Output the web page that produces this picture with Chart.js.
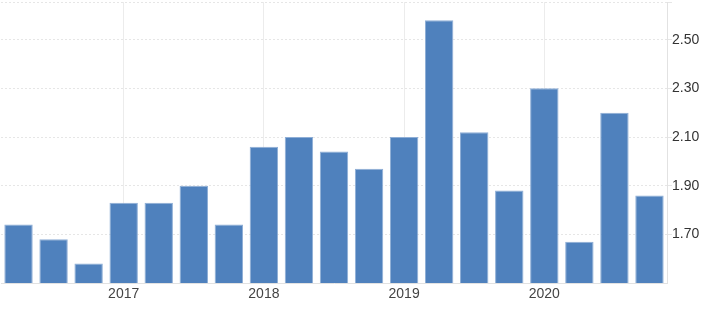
<!DOCTYPE html>
<html>
<head>
<meta charset="utf-8">
<script src="https://cdn.jsdelivr.net/npm/chart.js@4/dist/chart.umd.min.js"></script>
<style>
  html,body{margin:0;padding:0;background:#fff;}
  #wrap{width:728px;height:316px;}
</style>
</head>
<body>
<div id="wrap"><canvas id="c" width="728" height="316"></canvas></div>
<script>
// quarters 2016 Q2 .. 2020 Q4
const quarters = ["2016 Q2","2016 Q3","2016 Q4",
  "2017 Q1","2017 Q2","2017 Q3","2017 Q4",
  "2018 Q1","2018 Q2","2018 Q3","2018 Q4",
  "2019 Q1","2019 Q2","2019 Q3","2019 Q4",
  "2020 Q1","2020 Q2","2020 Q3","2020 Q4"];
const values = [1.74,1.68,1.58,1.83,1.83,1.90,1.74,2.06,2.10,2.04,1.97,2.10,2.58,2.12,1.88,2.30,1.67,2.20,1.86];
const yTicks = [1.70,1.90,2.10,2.30,2.50];
const yMin = 1.5, yMax = 2.655;

const isYear = i => /Q1$/.test(quarters[i]);

new Chart(document.getElementById("c"), {
  type: "bar",
  data: {
    labels: quarters,
    datasets: [{
      data: values,
      backgroundColor: "#4f81bd",
      borderColor: "#8eaed6",
      borderWidth: 1,
      categoryPercentage: 1,
      barPercentage: 0.81
    }]
  },
  options: {
    responsive: false,
    animation: false,
    layout: { padding: { left: 1, top: 2, right: 0, bottom: 0 } },
    plugins: { legend: { display: false }, tooltip: { enabled: false } },
    scales: {
      x: {
        offset: true,
        grid: {
          offset: false,
          drawTicks: false,
          color: ctx => (ctx.index != null && isYear(ctx.index)) ? "#ececec" : "rgba(0,0,0,0)"
        },
        border: { display: true, color: "#e2e2e2" },
        ticks: {
          autoSkip: false,
          maxRotation: 0,
          padding: 3,
          color: "#444",
          font: { family: "'Liberation Sans', Arial, sans-serif", size: 14 },
          callback: (v, i) => isYear(i) ? quarters[i].slice(0,4) : ""
        },
        afterFit: s => { s.height = 33; }
      },
      y: {
        position: "right",
        min: yMin,
        max: yMax,
        afterBuildTicks: s => { s.ticks = yTicks.concat([yMax]).map(v => ({ value: v })); },
        grid: { color: "#e6e6e6", tickLength: 5 },
        border: { display: true, color: "#e2e2e2", dash: [2,2] },
        ticks: {
          padding: 0,
          color: "#333",
          font: { family: "'Liberation Sans', Arial, sans-serif", size: 14 },
          callback: v => yTicks.includes(v) ? Number(v).toFixed(2) : ""
        },
        afterFit: s => { s.width = 61; s.paddingTop = 0; s.paddingBottom = 0; }
      }
    }
  }
});
</script>
</body>
</html>
